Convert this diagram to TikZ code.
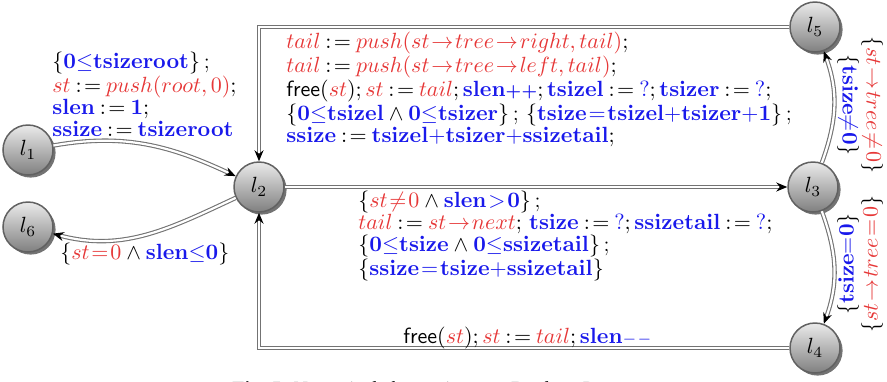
\RequirePackage{fix-cm}
\documentclass[tikz,border=0pt]{standalone}
\usepackage[no-math]{fontspec}
\newfontfamily\capfont{Liberation Serif}
\usetikzlibrary{arrows.meta,shadows}
\definecolor{cblue}{RGB}{25,25,235}
\definecolor{cred}{RGB}{230,55,55}
\newcommand{\bv}[1]{\textcolor{cblue}{\mathbf{#1}}}
\newcommand{\rv}[1]{\textcolor{cred}{#1}}
\newcommand{\bq}{\textcolor{cblue}{?}}
\newcommand{\bleq}{\textcolor{cblue}{\leq}}
\newcommand{\asg}{\mkern4mu\mathbf{:}\mkern2mu\mathbf{=}\mkern4mu}
\newcommand{\band}{\mkern4mu\wedge\mkern4mu}
\newcommand{\pplus}{\textcolor{cblue}{\mbox{\bfseries\fontsize{8.5}{8.5}\selectfont +\kern0.2pt+}}}
\newcommand{\mminus}{\textcolor{cblue}{\mathord{\scriptstyle-}\mkern1mu\mathord{\scriptstyle-}}}
\newcommand{\lblfont}{\fontsize{11}{10.9}\selectfont\thickmuskip=1.5mu\relax\medmuskip=0mu\relax}
\tikzset{
  loc/.style={circle, minimum size=25pt, inner sep=0pt, draw=black!62, line width=0.75pt,
    top color=black!8, bottom color=black!50, font=\fontsize{11}{11}\selectfont,
    drop shadow={shadow xshift=1.3pt, shadow yshift=-1.3pt, fill=black!55, opacity=1}},
  dbl/.style={draw=black!55, double=white, double distance=1.1pt, line width=0.55pt,
    -{Stealth[black,length=5.5pt,width=4.5pt]}},
  tfont/.style={font=\lblfont},
  lbl/.style={tfont, anchor=north west, inner sep=0pt, align=left},
  rlbl/.style={tfont, inner sep=0pt, align=center}
}
\begin{document}
\begin{tikzpicture}[x=0.5pt,y=0.5pt]
\useasboundingbox (0,0) rectangle (887,-381);
\clip (0,0) rectangle (887,-381);
\node[loc] (l1) at (28,-150) {$l_1$};
\node[loc] (l6) at (28,-227) {$l_6$};
\node[loc] (l2) at (259,-187) {$l_2$};
\node[loc] (l3) at (813,-187) {$l_3$};
\node[loc] (l5) at (815,-27) {$l_5$};
\node[loc] (l4) at (815,-348) {$l_4$};
\draw[dbl] (l1) to[out=10,in=155] (l2);
\draw[dbl] (l2) to[out=-155,in=-15] (l6);
\draw[dbl] (l2) -- (l3);
\draw[dbl] (l3) to[out=70,in=-70] (l5);
\draw[dbl] (l3) to[out=-70,in=70] (l4);
\draw[dbl] (l5.west) -| (l2.north);
\draw[dbl] (l4.west) -| (l2.south);
\node[lbl] (a1) at (52,-52) {%
$\{\bv{0}\bleq\bv{tsizeroot}\}$\,;\\
$\rv{st}\asg\rv{push(root,0)};$\\
$\bv{slen}\asg\bv{1};$\\
$\bv{ssize}\asg\bv{tsizeroot}$};
\node[lbl] (a2) at (286,-32) {%
$\rv{tail}\asg\rv{push(st\rightarrow tree\rightarrow right,tail)};$\\
$\rv{tail}\asg\rv{push(st\rightarrow tree\rightarrow left,tail)};$\\
$\mathsf{free}(\rv{st});\rv{st}\asg\rv{tail};\bv{slen}\pplus;\bv{tsizel}\asg\bq;\bv{tsizer}\asg\bq;$\\
$\{\bv{0}\bleq\bv{tsizel}\band\bv{0}\bleq\bv{tsizer}\}$\,;\ $\{\bv{tsize=tsizel+tsizer+1}\}$\,;\\
$\bv{ssize}\asg\bv{tsizel+tsizer+ssizetail};$};
\node[lbl] (a3) at (358,-191) {%
$\{\rv{st\neq0}\band\bv{slen>0}\}$\,;\\
$\rv{tail}\asg\rv{st\rightarrow next};$\ $\bv{tsize}\asg\bq;\bv{ssizetail}\asg\bq;$\\
$\{\bv{0}\bleq\bv{tsize}\band\bv{0}\bleq\bv{ssizetail}\}$\,;\\
$\{\bv{ssize=tsize+ssizetail}\}$};
\node[lbl] (a4) at (60,-243) {$\{\rv{st=0}\band\bv{slen}\bleq\bv{0}\}$};
\node[lbl] (a5) at (403,-327) {$\mathsf{free}(\rv{st});\rv{st}\asg\rv{tail};\bv{slen}\mminus$};
\node[rlbl, rotate=-90] (a6) at (860,-105) {$\{\rv{st\rightarrow tree\neq0}\}$\\$\{\bv{tsize}\textcolor{cblue}{\neq}\bv{0}\}$};
\node[rlbl, rotate=90] (a7) at (860,-264) {$\{\bv{tsize}\textcolor{cblue}{=}\bv{0}\}$\\$\{\rv{st\rightarrow tree=0}\}$};
\node[anchor=base west, inner sep=0pt, font=\capfont\fontsize{10}{12}\selectfont] (cap) at (232,-395) {\textbf{Fig. 5.} Numerical abstraction as a Boolean Program};
\end{tikzpicture}
\end{document}
